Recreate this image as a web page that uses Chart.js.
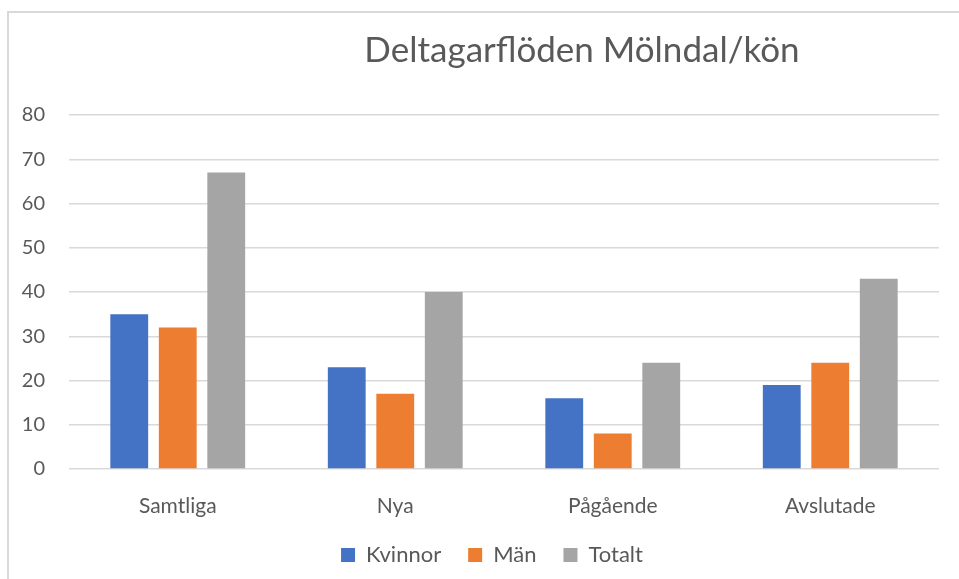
<!DOCTYPE html>
<html>
<head>
<meta charset="utf-8">
<script src="https://cdn.jsdelivr.net/npm/chart.js@4.4.1/dist/chart.umd.min.js"></script>
<style>
  html, body { margin: 0; padding: 0; background: #fff; overflow: hidden; }
  #wrap { position: relative; width: 959px; height: 579px; overflow: hidden; }
  #frame { position: absolute; left: 7px; top: 11px; width: 1000px; height: 700px;
           border-left: 2px solid #d9d9d9; border-top: 2px solid #d9d9d9; }
  #chart { position: absolute; left: 0; top: 0; }
</style>
</head>
<body>
<div id="wrap">
  <div id="frame"></div>
  <canvas id="chart" width="959" height="600"></canvas>
</div>
<script>
const title = "Deltagarflöden Mölndal/kön";
const categories = ["Samtliga", "Nya", "Pågående", "Avslutade"];
const kvinnor = [35, 23, 16, 19];
const man = [32, 17, 8, 24];
const totalt = [67, 40, 24, 43];
const seriesNames = ["Kvinnor", "Män", "Totalt"];
const seriesColors = ["#4472C4", "#ED7D31", "#A5A5A5"];

const textColor = "#595959";
const fontFamily = "Lato, 'Open Sans', sans-serif";

// title is drawn by hand, Excel puts it off-centre
const titlePlugin = {
    id: "offsetTitle",
    afterDraw(chart) {
        const ctx = chart.ctx;
        ctx.save();
        ctx.fillStyle = textColor;
        ctx.font = "35px " + fontFamily;
        ctx.textAlign = "center";
        ctx.textBaseline = "alphabetic";
        ctx.fillText(title, 582, 62);
        ctx.restore();
    }
};

// fixed axis sizes, but let the labels spill out of the axis box
function fixSize(prop, value) {
    return (scale) => {
        scale[prop] = value;
        scale._computeLabelArea = () => undefined;
    };
}

const data = {
    labels: categories,
    datasets: [kvinnor, man, totalt].map((values, i) => ({
        label: seriesNames[i],
        data: values,
        backgroundColor: seriesColors[i],
        borderWidth: 0,
        categoryPercentage: 0.669,
        barPercentage: 0.78
    }))
};

new Chart(document.getElementById("chart"), {
    type: "bar",
    data: data,
    plugins: [titlePlugin],
    options: {
        responsive: false,
        animation: false,
        layout: { padding: { top: 115, left: 45, right: 20, bottom: 24 } },
        plugins: {
            title: { display: false },
            tooltip: { enabled: false },
            legend: {
                position: "bottom",
                labels: {
                    color: textColor,
                    font: { family: fontFamily, size: 22 },
                    boxWidth: 14,
                    boxHeight: 14,
                    padding: 27
                }
            }
        },
        scales: {
            x: {
                grid: { display: false },
                border: { display: false },
                ticks: {
                    color: textColor,
                    font: { family: fontFamily, size: 21 },
                    padding: 17,
                    maxRotation: 0
                },
                afterFit: fixSize("height", 48)
            },
            y: {
                min: 0,
                max: 80,
                grid: { color: "#d9d9d9", lineWidth: 1.5, drawTicks: false },
                border: { display: false },
                ticks: {
                    stepSize: 10,
                    color: textColor,
                    font: { family: fontFamily, size: 20 },
                    padding: 24
                },
                afterFit: fixSize("width", 24)
            }
        }
    }
});
</script>
</body>
</html>
